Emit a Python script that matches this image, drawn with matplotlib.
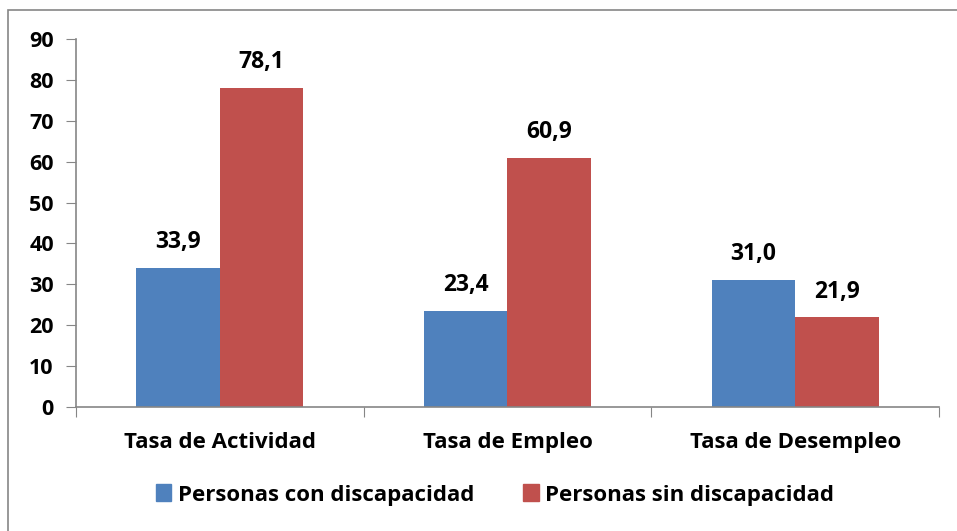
import numpy as np
import matplotlib.pyplot as plt
from matplotlib.patches import Rectangle, Patch

categorias = ['Tasa de Actividad', 'Tasa de Empleo', 'Tasa de Desempleo']
con_discapacidad = [33.9, 23.4, 31.0]
sin_discapacidad = [78.1, 60.9, 21.9]
series = ['Personas con discapacidad', 'Personas sin discapacidad']

azul = '#4F81BD'
rojo = '#C0504D'
gris = '#868686'

plt.rcParams['font.family'] = ['Open Sans', 'DejaVu Sans']
plt.rcParams['font.weight'] = 'bold'

fig = plt.figure(figsize=(9.57, 5.31), dpi=100)
# marco del gráfico
fig.patches.append(Rectangle((8 / 957, -0.1), 1.2, 1 - 10 / 531 + 0.1, transform=fig.transFigure,
                             fill=False, edgecolor=gris, lw=1.2))

ax = fig.add_axes([76 / 957, 1 - 407 / 531, (939 - 76) / 957, (407 - 39) / 531])

x = np.arange(len(categorias))
w = 0.29
b1 = ax.bar(x - w / 2, con_discapacidad, w, color=azul)
b2 = ax.bar(x + w / 2, sin_discapacidad, w, color=rojo)

for bars in (b1, b2):
    for b in bars:
        ax.annotate(f'{b.get_height():.1f}'.replace('.', ','),
                    (b.get_x() + b.get_width() / 2, b.get_height()),
                    xytext=(0, 10), textcoords='offset points', ha='center', va='bottom',
                    fontsize=16.5, fontweight='bold')

ax.set_ylim(0, 90)
ax.set_yticks(np.arange(0, 91, 10))
ax.set_xlim(-0.5, len(categorias) - 0.5)
ax.set_xticks(np.arange(-0.5, len(categorias), 1.0))
ax.set_xticklabels([])
ax.set_xticks(x, minor=True)
ax.set_xticklabels(categorias, minor=True)
ax.tick_params(axis='x', which='minor', length=0, pad=18, labelsize=16)
ax.tick_params(axis='x', which='major', length=7, color=gris, direction='out')
ax.tick_params(axis='y', length=7, color=gris, pad=9, labelsize=15.5)
for s in ('top', 'right'):
    ax.spines[s].set_visible(False)
for s in ('left', 'bottom'):
    ax.spines[s].set_color(gris)
    ax.spines[s].set_linewidth(1.2)
for lab in ax.get_yticklabels() + ax.get_xticklabels(minor=True):
    lab.set_fontweight('bold')

handles = [Patch(color=azul), Patch(color=rojo)]
fig.legend(handles, series, loc='center', bbox_to_anchor=(495 / 957, 1 - 495 / 531), ncol=2,
           frameon=False, handlelength=0.7, handleheight=0.8, handletextpad=0.3,
           columnspacing=2.2, prop={'weight': 'bold', 'size': 16})

plt.savefig('out.png', dpi=100)
